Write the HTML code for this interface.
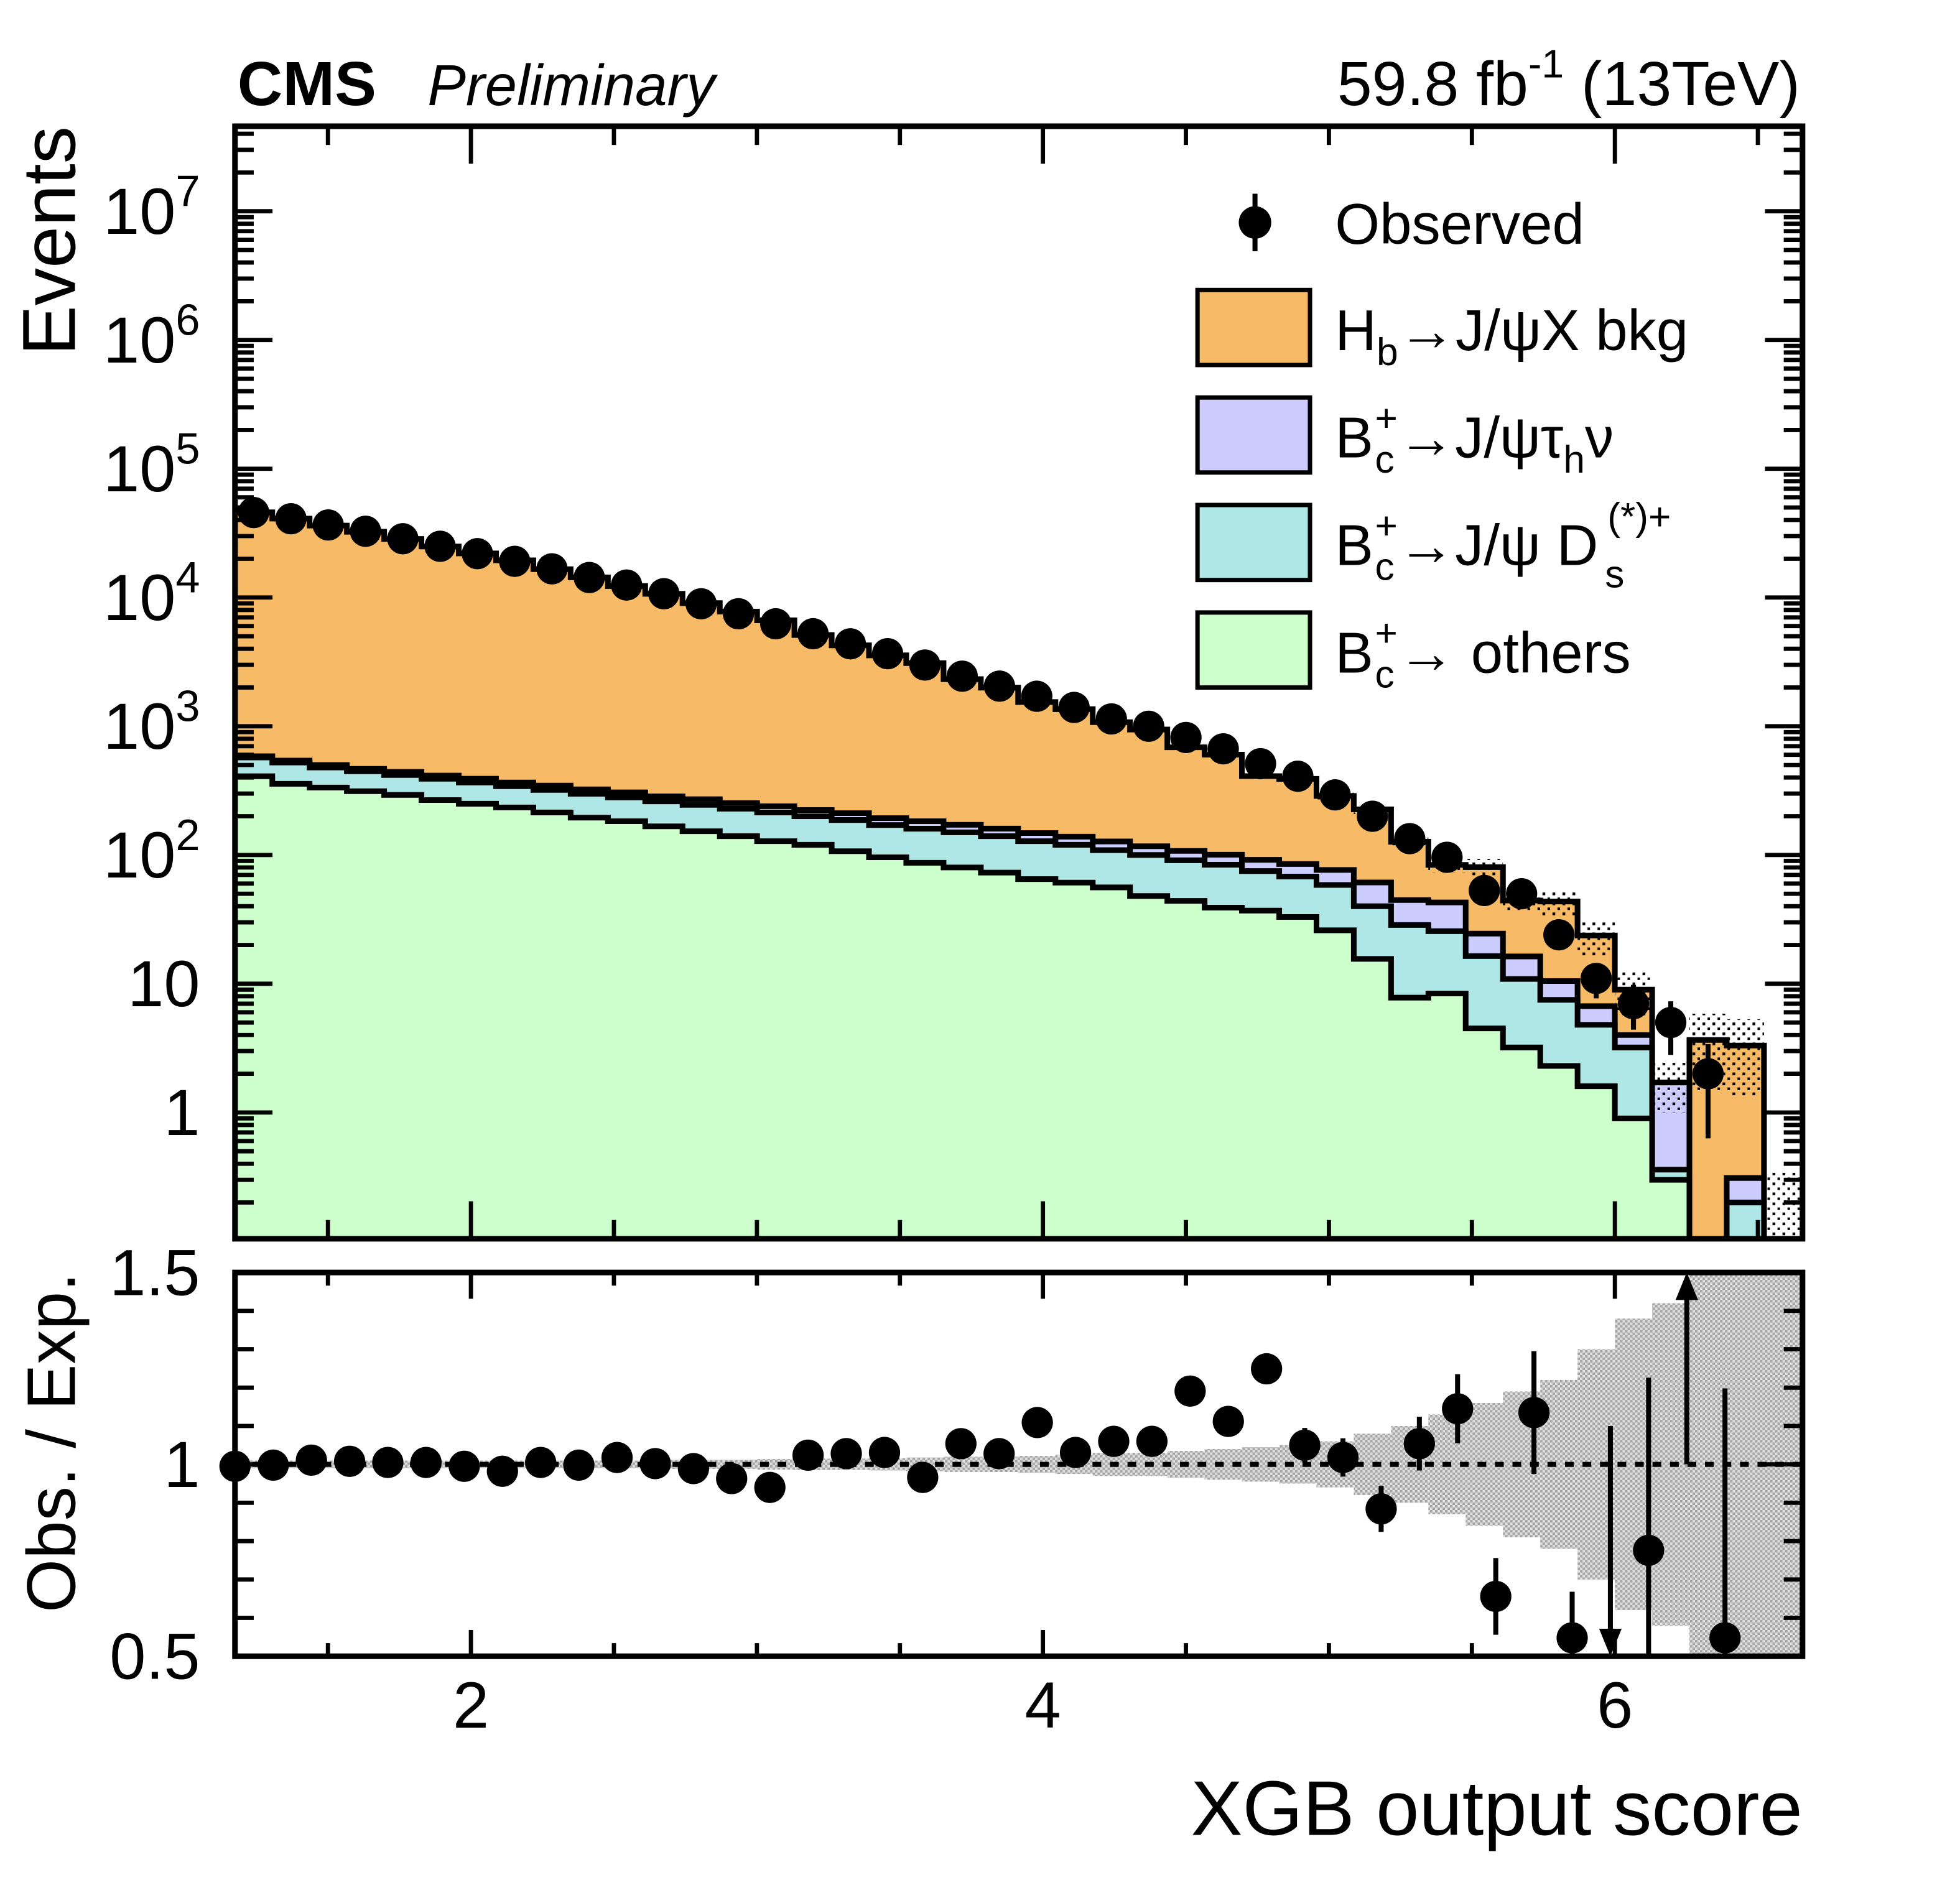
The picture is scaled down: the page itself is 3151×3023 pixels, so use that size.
<!DOCTYPE html>
<html><head><meta charset="utf-8"><style>
html,body{margin:0;padding:0;background:#fff}
svg{display:block}
text{font-family:"Liberation Sans",Arial,sans-serif;fill:#000}
</style></head><body>
<svg id="chart" width="3151" height="3023" viewBox="0 0 1568 1504" preserveAspectRatio="none" xmlns="http://www.w3.org/2000/svg">
<defs>
<pattern id="dots" width="8" height="8" patternUnits="userSpaceOnUse"><rect x="2" y="2" width="2.2" height="2.2" fill="#000"/><rect x="6" y="6" width="2.2" height="2.2" fill="#000"/></pattern>
<pattern id="gdots" width="4" height="4" patternUnits="userSpaceOnUse"><rect width="4" height="4" fill="#e0e0e0"/><rect x="0" y="0" width="2" height="2" fill="#a6a6a6"/><rect x="2" y="2" width="2" height="2" fill="#a6a6a6"/></pattern>
<clipPath id="mainClip"><rect x="188" y="101" width="1254" height="890"/></clipPath>
<clipPath id="ratioClip"><rect x="188" y="1018" width="1254" height="307"/></clipPath>
</defs>
<g id="main"></g>
<g id="ratio"></g>
<g id="labels">
<text x="190" y="84" font-size="50" font-weight="bold">CMS</text>
<text x="342" y="84" font-size="46" font-style="italic">Preliminary</text>
<text x="1440" y="84" font-size="50" text-anchor="end">59.8 fb<tspan dy="-22" font-size="32">-1</tspan><tspan dy="22"> (13TeV)</tspan></text>
<text transform="translate(60,101) rotate(-90)" font-size="60" text-anchor="end">Events</text>
<text transform="translate(60,1018) rotate(-90)" font-size="55" text-anchor="end">Obs. / Exp.</text>
<text x="1442" y="1468" font-size="62" text-anchor="end">XGB output score</text>
</g>
<g id="legend">
<g>
<line x1="1004" y1="155" x2="1004" y2="201" stroke="#000" stroke-width="4"/>
<circle cx="1004" cy="178" r="13" fill="#000"/>
<text x="1068" y="195" font-size="46">Observed</text></g>
<g>
<rect x="958" y="232" width="90" height="60" fill="#f7ba66" stroke="#000" stroke-width="3.5"/>
<text x="1068" y="280" font-size="46">H<tspan dy="12" font-size="31">b</tspan><tspan dy="-12">→J/ψX bkg</tspan></text></g>
<g>
<rect x="958" y="318" width="90" height="60" fill="#ccccff" stroke="#000" stroke-width="3.5"/>
<text x="1068" y="366" font-size="46">B</text><text x="1100" y="345" font-size="31">+</text><text x="1100" y="378" font-size="31">c</text>
<text x="1118" y="366" font-size="46">→J/ψτ<tspan dy="12" font-size="31">h</tspan><tspan dy="-12">ν</tspan></text></g>
<g>
<rect x="958" y="404" width="90" height="60" fill="#afe6e6" stroke="#000" stroke-width="3.5"/>
<text x="1068" y="452" font-size="46">B</text><text x="1100" y="431" font-size="31">+</text><text x="1100" y="464" font-size="31">c</text>
<text x="1118" y="452" font-size="46">→J/ψ D</text><text x="1284" y="470" font-size="31">s</text><text x="1286" y="424" font-size="31">(*)+</text></g>
<g>
<rect x="958" y="490" width="90" height="60" fill="#ccffcc" stroke="#000" stroke-width="3.5"/>
<text x="1068" y="538" font-size="46">B</text><text x="1100" y="517" font-size="31">+</text><text x="1100" y="550" font-size="31">c</text>
<text x="1118" y="538" font-size="46">→ others</text></g>
</g>
</svg>
<script>
// ---- data (42 bins) ----
const binLo = 1.175, binW = 0.1304, nBins = 42;
const others = [409,357,334,313,293,267,250,234,214,195,183,167,153,140,128,120,107,96,87,80,73,65,61,56,48,44,39,37,33,26,15.6,7.8,8.4,4.5,3.2,2.3,1.6,0.9,0.3,0.02,0.05,0];
const dsBkg = [163,166,144,134,125,124,116,108,106,104,97,94,92,89,86,80,80,75,73,70,67,63,59,53,52,47,45,38,35,32.5,24.4,20.8,17.2,11.9,7.7,5.2,3.2,2.3,0.06,0.02,0.15,0];
const tauSig = [13,18,22,20,24,22.5,25.4,23.7,26,24.3,26.2,24.4,26,24.3,25.3,23.6,24.5,22.4,23,21.6,20.2,20.1,18.8,18.4,16.9,16.6,16.5,16.7,17.1,18,21.2,16.1,17.2,8.1,5.4,3.0,1.9,0.8,1.35,0.02,0.11,0];
const hbBkg = [45300,40460,35700,31930,28060,24490,21610,19080,16250,14010,11970,10400,8770,7520,6410,4890,4040,3360,2910,2150,1835,1394,1219,948,826,579,501,318,305,211,165,82,41,56,28,33,17,5,0,3.6,3.0,0];
const observed = [45700,40900,36600,32700,28600,25000,21900,19100,16700,14300,12500,10700,8940,7480,6250,5230,4370,3660,2990,2450,2050,1710,1400,1140,1000,818,668,512,409,293,200,134,96,53,50,24,11,7,5,2];
const obsErrUp = [214,202,191,181,169,158,148,138,129,120,112,103,95,86,79,72,66,60,55,49,45,41,37,34,32,29,26,23,20,17,14,12,10,8,7,5,3.5,2.8,2.3,1.4];
const obsErrDn = [214,202,191,181,169,158,148,138,129,120,112,103,95,86,79,72,66,60,55,49,45,41,37,34,32,29,26,23,20,17,14,12,10,7,7,5,3.3,2.6,2.2,1.37];
const relUnc = [0.01,0.01,0.01,0.01,0.01,0.01,0.01,0.01,0.01,0.01,0.01,0.012,0.012,0.012,0.014,0.015,0.015,0.016,0.018,0.02,0.02,0.022,0.025,0.03,0.03,0.035,0.04,0.045,0.05,0.06,0.08,0.1,0.13,0.16,0.19,0.22,0.3,0.38,0.42,0.6,0.6,0.6];
const ratioVal = [0.995,0.998,1.011,1.008,1.005,1.005,0.995,0.982,1.005,0.998,1.018,1.002,0.989,0.963,0.94,1.024,1.028,1.031,0.966,1.054,1.028,1.109,1.031,1.06,1.06,1.191,1.112,1.249,1.05,1.018,0.884,1.054,1.145,0.656,1.135,0.548,0.45,0.776,2.5,0.548];
const ratioErr = [0.005,0.005,0.006,0.006,0.006,0.007,0.007,0.007,0.008,0.008,0.009,0.01,0.01,0.011,0.012,0.014,0.015,0.016,0.018,0.02,0.022,0.025,0.027,0.03,0.032,0.035,0.04,0.04,0.045,0.05,0.06,0.07,0.09,0.1,0.16,0.12,0.65,0.45,1.5,0.65];
const xTicksMajor = [2,4,6];
const xTickLabels = ["2","4","6"];
const yDecades = [0,1,2,3,4,5,6,7];
const yDecadeLabels = ["1","10","10","10","10","10","10","10"];
const yDecadeSup = ["","","2","3","4","5","6","7"];
const ratioTicks = [0.5,1,1.5];
const ratioTickLabels = ["0.5","1","1.5"];

// ---- axes ----
const NS = "http://www.w3.org/2000/svg";
const X0 = 188, X1 = 1442, YT = 101, YB = 991, RT = 1018, RB = 1325;
const xMin = 1.175, xMax = 6.656;
function xs(v){ return X0 + (v - xMin) / (xMax - xMin) * (X1 - X0); }
function ys(v){ return 890 - 103 * Math.log10(Math.max(v, 1e-4)); }
function rs(r){ return RB - (r - 0.5) / 1.0 * (RB - RT); }
function rxs(i){ return X0 + i * (1380 - X0) / 39; }
function el(tag, attrs, parent){ const e = document.createElementNS(NS, tag); for (const k in attrs) e.setAttribute(k, attrs[k]); parent.appendChild(e); return e; }

const main = document.getElementById('main');
const ratio = document.getElementById('ratio');
const mc = el('g', {'clip-path':'url(#mainClip)'}, main);

const cumG = [], cumC = [], cumL = [], cumT = [];
for (let i = 0; i < nBins; i++) {
  cumG.push(others[i]);
  cumC.push(cumG[i] + dsBkg[i]);
  cumL.push(cumC[i] + tauSig[i]);
  cumT.push(cumL[i] + hbBkg[i]);
}
function edge(i){ return xs(binLo + i * binW); }
function stepPath(arr){
  let d = 'M' + edge(0) + ',' + (YB + 10);
  for (let i = 0; i < nBins; i++) {
    const y = arr[i] > 0 ? Math.min(ys(arr[i]), YB + 10) : YB + 10;
    d += ' L' + edge(i) + ',' + y + ' L' + edge(i + 1) + ',' + y;
  }
  d += ' L' + edge(nBins) + ',' + (YB + 10) + ' Z';
  return d;
}
const layers = [[cumT,'#f7ba66','stack-hb-bkg'],[cumL,'#ccccff','stack-tau-signal'],[cumC,'#afe6e6','stack-ds-bkg'],[cumG,'#ccffcc','stack-others']];
for (const [arr, col, nm] of layers) {
  const p = el('path', {d: stepPath(arr), fill: col, stroke: '#000', 'stroke-width': 4.5}, mc);
  
  
}
for (let i = 28; i < nBins; i++) {
  const t = cumT[i] > 0 ? cumT[i] : 0.15;
  const hi = ys(t * (1 + relUnc[i]) + (cumT[i] > 0 ? 0 : 0.1)), lo = cumT[i] > 0 ? ys(t * (1 - relUnc[i])) : YB;
  const r = el('rect', {x: edge(i), y: hi, width: edge(i+1) - edge(i), height: Math.max(lo - hi, 0), fill: 'url(#dots)'}, mc);
  
  
}
for (let i = 0; i < observed.length; i++) {
  const cx = (edge(i) + edge(i + 1)) / 2, cy = ys(observed[i]);
  const g = el('g', {}, mc);
  
  
  el('line', {x1: cx, x2: cx, y1: ys(observed[i] + obsErrUp[i]), y2: ys(Math.max(observed[i] - obsErrDn[i], 1e-3)), stroke: '#000', 'stroke-width': 4}, g);
  el('circle', {cx: cx, cy: cy, r: 12.5, fill: '#000'}, g);
}
el('rect', {x: X0, y: YT, width: X1 - X0, height: YB - YT, fill: 'none', stroke: '#000', 'stroke-width': 4.5}, main);
const tk = el('g', {stroke: '#000', 'stroke-width': 3.4}, main);
for (let v = 1.5; v <= 6.5; v += 0.5) {
  const L = (Math.abs(v - Math.round(v/2)*2) < 1e-6) ? 30 : 15;
  el('line', {x1: xs(v), x2: xs(v), y1: YB, y2: YB - L}, tk);
  el('line', {x1: xs(v), x2: xs(v), y1: YT, y2: YT + L}, tk);
  el('line', {x1: xs(v), x2: xs(v), y1: RB, y2: RB - L * 0.7}, tk);
  el('line', {x1: xs(v), x2: xs(v), y1: RT, y2: RT + L * 0.7}, tk);
}
for (let d = -1; d <= 7; d++) {
  for (let m = 1; m <= 9; m++) {
    const y = ys(m * Math.pow(10, d));
    if (y < YT || y > YB) continue;
    const L = m === 1 ? 30 : 15;
    el('line', {x1: X0, x2: X0 + L, y1: y, y2: y}, tk);
    el('line', {x1: X1, x2: X1 - L, y1: y, y2: y}, tk);
  }
}
yDecades.forEach((d, i) => {
  const t = el('text', {x: 160, y: ys(Math.pow(10, d)) + 18, 'font-size': 52, 'text-anchor': 'end'}, main);
  
  
  if (yDecadeSup[i]) { t.textContent = yDecadeLabels[i]; const s = el('tspan', {dy: -22, 'font-size': 35}, t); s.textContent = yDecadeSup[i]; }
  else t.textContent = yDecadeLabels[i];
});

const rc = el('g', {'clip-path': 'url(#ratioClip)'}, ratio);
for (let i = 0; i < nBins; i++) {
  const r = el('rect', {x: edge(i), y: rs(1 + relUnc[i]), width: edge(i+1) - edge(i), height: rs(1 - relUnc[i]) - rs(1 + relUnc[i]), fill: 'url(#gdots)'}, rc);
  
  
}
el('line', {x1: X0, x2: X1, y1: rs(1), y2: rs(1), stroke: '#000', 'stroke-width': 4, 'stroke-dasharray': '7,7'}, rc);
for (let i = 0; i < ratioVal.length; i++) {
  const cx = rxs(i), v = ratioVal[i], e = ratioErr[i];
  const g = el('g', {}, ratio);
  
  
  if (v < 0.5) {
    el('line', {x1: cx, x2: cx, y1: rs(Math.min(v + e, 1.5)), y2: RB - 18, stroke: '#000', 'stroke-width': 4}, g);
    el('path', {d: `M${cx-9},${RB-22} L${cx+9},${RB-22} L${cx},${RB} Z`, fill: '#000'}, g);
  } else if (v > 1.5) {
    el('line', {x1: cx, x2: cx, y1: rs(Math.max(v - e, 0.5)), y2: RT + 18, stroke: '#000', 'stroke-width': 4}, g);
    el('path', {d: `M${cx-9},${RT+22} L${cx+9},${RT+22} L${cx},${RT} Z`, fill: '#000'}, g);
  } else {
    el('line', {x1: cx, x2: cx, y1: rs(Math.min(v + e, 1.5)), y2: rs(Math.max(v - e, 0.5)), stroke: '#000', 'stroke-width': 4}, g);
    el('circle', {cx: cx, cy: rs(v), r: 12.5, fill: '#000'}, g);
  }
}
el('rect', {x: X0, y: RT, width: X1 - X0, height: RB - RT, fill: 'none', stroke: '#000', 'stroke-width': 4.5}, ratio);
const rtk = el('g', {stroke: '#000', 'stroke-width': 3.4}, ratio);
for (let k = 0; k <= 10; k++) {
  const y = rs(0.5 + k * 0.1), L = (k % 5 === 0) ? 30 : 15;
  el('line', {x1: X0, x2: X0 + L, y1: y, y2: y}, rtk);
  el('line', {x1: X1, x2: X1 - L, y1: y, y2: y}, rtk);
}
ratioTicks.forEach((v, i) => {
  const t = el('text', {x: 160, y: rs(v) + 18, 'font-size': 52, 'text-anchor': 'end'}, ratio);
  
  
  t.textContent = ratioTickLabels[i];
});
xTicksMajor.forEach((v, i) => {
  const t = el('text', {x: xs(v), y: 1382, 'font-size': 52, 'text-anchor': 'middle'}, ratio);
  
  
  t.textContent = xTickLabels[i];
});
</script>
</body></html>
